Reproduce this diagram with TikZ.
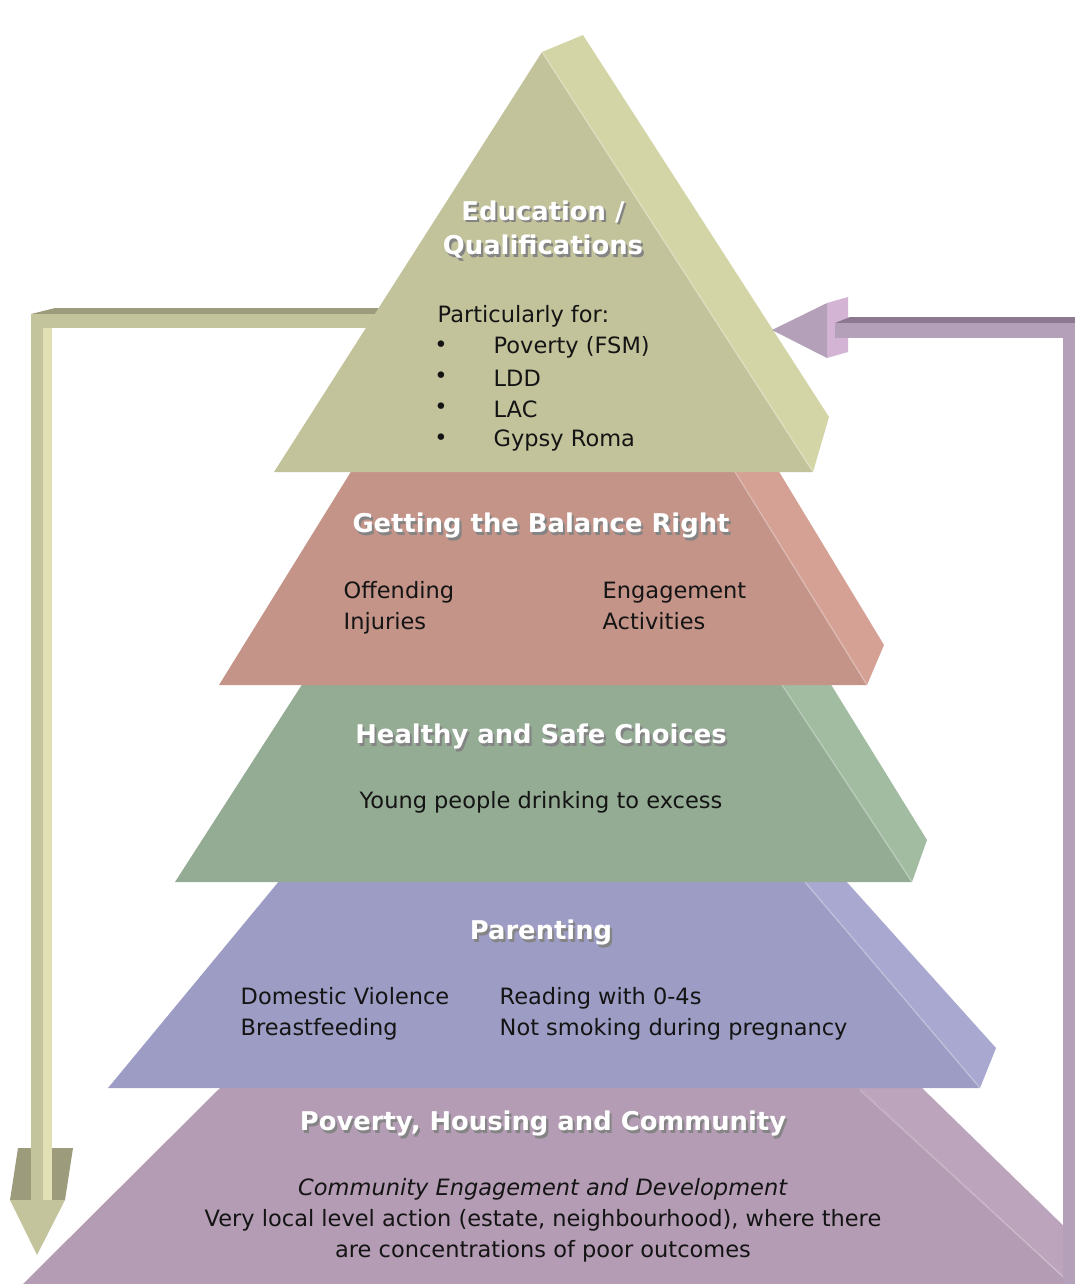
\documentclass[tikz,border=0pt]{standalone}
\usepackage{fontspec}
\setmainfont{DejaVu Sans}

% layer colours: front face / side face
\definecolor{eduF}{HTML}{C3C39B}
\definecolor{eduS}{HTML}{D3D5A7}
\definecolor{balF}{HTML}{C49489}
\definecolor{balS}{HTML}{D6A195}
\definecolor{hsF}{HTML}{94AC94}
\definecolor{hsS}{HTML}{A2BCA2}
\definecolor{parF}{HTML}{9C9CC4}
\definecolor{parS}{HTML}{A8A8D0}
\definecolor{povF}{HTML}{B49CB4}
\definecolor{povS}{HTML}{BCA4BC}
% arrow colours
\definecolor{upF}{HTML}{C4C49C}
\definecolor{upL}{HTML}{E0E0B4}
\definecolor{upT}{HTML}{9C9C7C}
\definecolor{backF}{HTML}{B4A0B8}
\definecolor{backL}{HTML}{D4B4D4}
\definecolor{backT}{HTML}{8C7890}
\definecolor{shade}{HTML}{6E6E6E}

\newcommand\shtxt[1]{\leavevmode\rlap{\kern0.6pt\raisebox{-0.6pt}{\textcolor{shade!85}{#1}}}\textcolor{white}{#1}}

\tikzset{
  body/.style={font=\fontsize{6.4}{8.8}\selectfont, text=black!92, inner sep=0pt},
  head/.style={font=\fontsize{7.35}{9.7}\selectfont\bfseries, align=center, inner sep=0pt},
}

\begin{document}
\begin{tikzpicture}[x=1cm,y=-1cm]
\useasboundingbox[fill=white] (0,0) rectangle (10.75,12.84);

% arrow down the left side
\fill[upT] (0.18,11.48)--(0.73,11.48)--(0.65,12.00)--(0.10,12.00)--cycle;
\fill[upF] (0.10,12.00)--(0.65,12.00)--(0.37,12.55)--cycle;
\fill[upF] (0.31,3.20) rectangle (0.43,12.00);
\fill[upL] (0.43,3.28) rectangle (0.52,12.00);
\fill[upT] (0.31,3.14)--(0.55,3.08)--(3.80,3.08)--(3.80,3.14)--cycle;
\fill[upF] (0.31,3.14) rectangle (3.80,3.28);

% layers, bottom one first
\fill[povF] (0.23,12.84)--(2.22,10.86)--(8.58,10.86)--(10.71,12.84)--cycle;
\fill[povS] (8.58,10.86)--(9.20,10.86)--(10.75,12.37)--(10.75,12.84)--(10.71,12.84)--cycle;
\draw[white, opacity=0.25, line width=0.4pt] (8.60,10.90)--(10.71,12.84);

\fill[parF] (1.08,10.88)--(2.80,8.80)--(8.03,8.80)--(9.80,10.88)--cycle;
\fill[parS] (8.03,8.80)--(8.45,8.80)--(9.96,10.48)--(9.80,10.88)--cycle;
\draw[white, opacity=0.25, line width=0.4pt] (8.05,8.82)--(9.80,10.88);

\fill[hsF] (1.75,8.82)--(3.03,6.83)--(7.81,6.83)--(9.12,8.82)--cycle;
\fill[hsS] (7.81,6.83)--(8.30,6.83)--(9.27,8.40)--(9.12,8.82)--cycle;
\draw[white, opacity=0.25, line width=0.4pt] (7.82,6.85)--(9.12,8.82);

\fill[balF] (2.19,6.85)--(3.52,4.70)--(7.34,4.70)--(8.67,6.85)--cycle;
\fill[balS] (7.34,4.70)--(7.78,4.70)--(8.84,6.45)--(8.67,6.85)--cycle;
\draw[white, opacity=0.25, line width=0.4pt] (7.35,4.72)--(8.67,6.85);

\fill[eduF] (2.74,4.72)--(5.42,0.52)--(8.13,4.72)--cycle;
\fill[eduS] (5.42,0.52)--(5.83,0.35)--(8.29,4.17)--(8.13,4.72)--cycle;
\draw[white, opacity=0.25, line width=0.4pt] (5.42,0.52)--(8.13,4.72);

% arrow back up the right side
\fill[backF] (10.63,3.23) rectangle (10.75,12.84);
\fill[backL] (8.27,3.03)--(8.48,2.97)--(8.48,3.52)--(8.27,3.58)--cycle;
\fill[backF] (7.72,3.30)--(8.27,3.03)--(8.27,3.58)--cycle;
\fill[backT] (8.35,3.23)--(8.50,3.17)--(10.75,3.17)--(10.75,3.23)--cycle;
\fill[backF] (8.35,3.23) rectangle (10.75,3.38);

% texts
\node[head] (edu) at (5.43,2.31) {\shtxt{Education /}\\\shtxt{Qualifications}};
\node[body, anchor=west] (for) at (4.37,3.16) {Particularly for:};
\foreach \txt [count=\i] in {Poverty (FSM), LDD, LAC, Gypsy Roma} {
  \node[body] (dot\i) at (4.41,3.16+0.31*\i) {\textbullet};
  \node[body, anchor=west] (grp\i) at (4.93,3.16+0.31*\i) {\txt};
}

\node[head] (bal) at (5.41,5.27) {\shtxt{Getting the Balance Right}};
\node[body, anchor=north west, align=left] (off) at (3.43,5.81) {Offending\\Injuries};
\node[body, anchor=north west, align=left] (eng) at (6.02,5.81) {Engagement\\Activities};

\node[head] (hs) at (5.41,7.38) {\shtxt{Healthy and Safe Choices}};
\node[body] (drink) at (5.41,8.02) {Young people drinking to excess};

\node[head] (par) at (5.41,9.34) {\shtxt{Parenting}};
\node[body, anchor=north west, align=left] (dv) at (2.40,9.87) {Domestic Violence\\Breastfeeding};
\node[body, anchor=north west, align=left] (read) at (4.99,9.87) {Reading with 0-4s\\Not smoking during pregnancy};

\node[head] (pov) at (5.43,11.25) {\shtxt{Poverty, Housing and Community}};
\node[body, align=center] (local) at (5.43,12.20)
  {\textit{Community Engagement and Development}\\
   Very local level action (estate, neighbourhood), where there\\
   are concentrations of poor outcomes};
\end{tikzpicture}
\end{document}
